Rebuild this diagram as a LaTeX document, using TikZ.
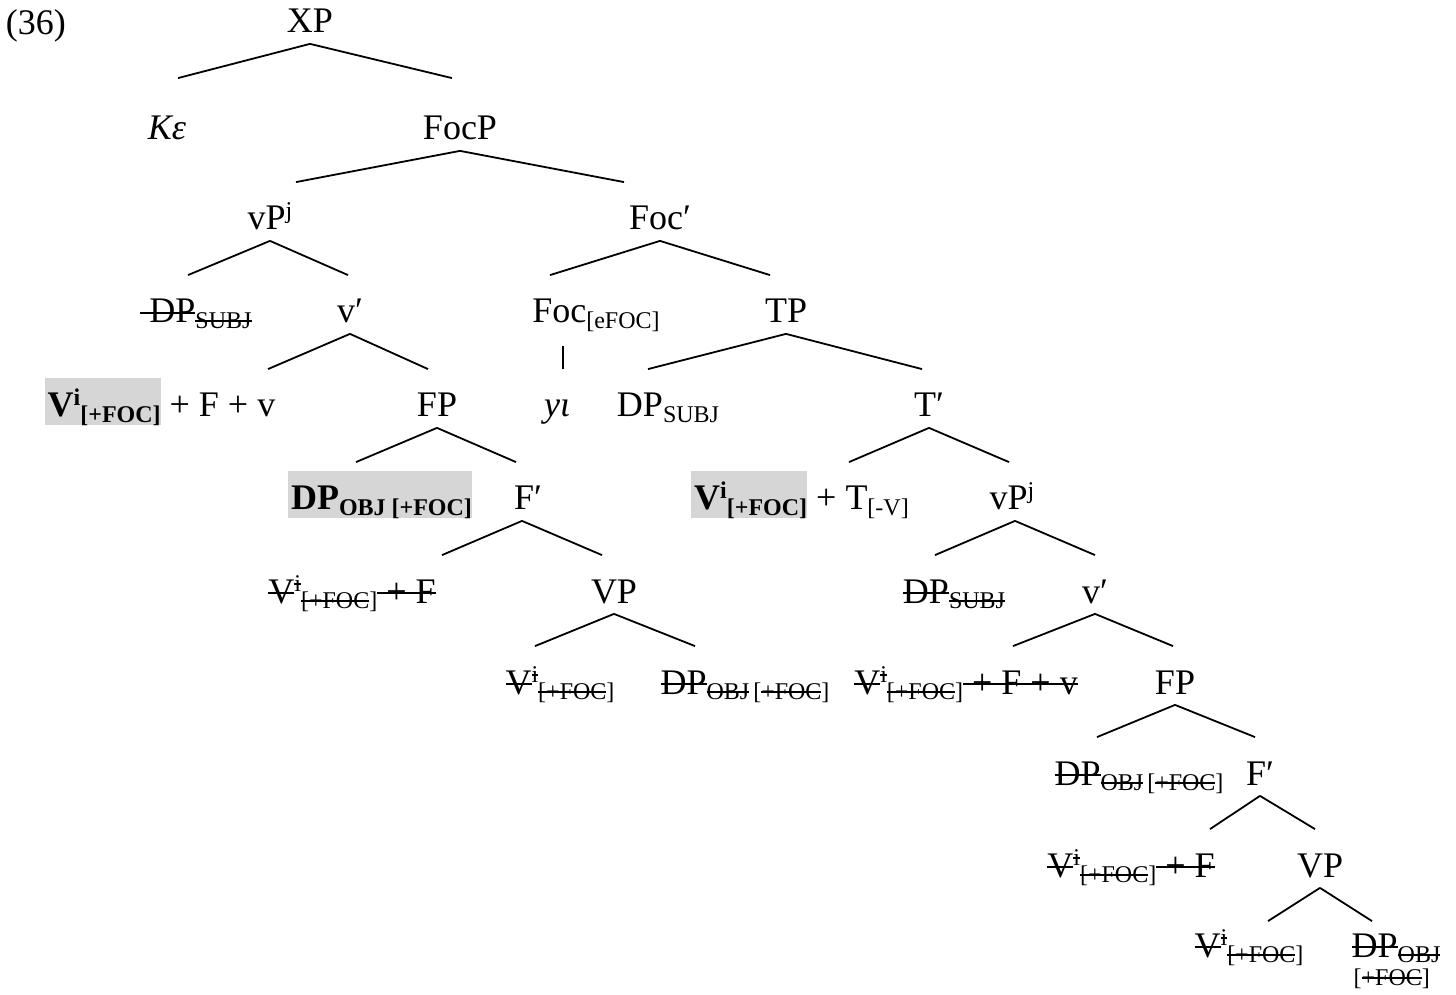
\documentclass[tikz,border=0pt]{standalone}
\usepackage{fontspec}
\setmainfont{Liberation Serif}
\usetikzlibrary{calc}
\definecolor{hlgray}{gray}{0.84}
\newsavebox\strkbox
\newcommand\strk[1]{\sbox\strkbox{#1}\rlap{\usebox\strkbox}\rule[0.25em]{\wd\strkbox}{0.55pt}}
\newcommand\lo[1]{\raisebox{-0.14em}{\fontsize{8}{9}\selectfont #1}}
\newcommand\hi[1]{\raisebox{0.33em}{\fontsize{8}{9}\selectfont #1}}
\newcommand\hl[1]{{\setlength\fboxsep{0pt}\colorbox{hlgray}{\rule[-2.7pt]{0pt}{15.7pt}\kern1pt#1}}}
\tikzset{lab/.style={anchor=base,inner sep=0pt,text height=15.67pt,text depth=3.33pt,font=\fontsize{12}{14}\selectfont}}
\begin{document}
\begin{tikzpicture}[x=0.33333pt,y=-0.33333pt,line width=0.6pt]
			\useasboundingbox (0,0) rectangle (1456,995);
			%upper part
			\node[lab,anchor=base west] (ex) at (5,35) {(36)};
			\node[lab] (XP) at (310,33) {XP};
			\node[lab] (Ke) at (167,140) {\textit{Kε}};
			\node[lab] (FocP) at (460,140) {FocP};
			\node[lab] (vPj) at (270,230) {vP\hi{j}};
			\node[lab] (Focb) at (660,230) {Foc′};
			\node[lab] (DPs) at (196,323) {\strk{\kern3pt DP}\lo{\strk{SUBJ}}};
			\node[lab] (vb) at (350,323) {v′};
			\node[lab] (Foc) at (596,323) {Foc\lo{[eFOC]}};
			\node[lab] (TP) at (786,323) {TP};
			\node[lab] (Vfv) at (160,417) {\hl{\textbf{V\hi{i}\lo{[+FOC]}}} + F + v};
			\node[lab] (FP) at (437,417) {FP};
			\node[lab] (yi) at (557,417) {\textit{yι}};
			\node[lab] (DPsubj) at (668,417) {DP\lo{SUBJ}};
			\node[lab] (Tb) at (929,417) {T′};
			\node[lab] (DPobj) at (380,510) {\hl{\textbf{DP\lo{OBJ [+FOC]}}}};
			\node[lab] (Fb) at (528,510) {F′};
			\node[lab] (VT) at (800,510) {\hl{\textbf{V\hi{i}\lo{[+FOC]}}} + T\lo{[-V]}};
			\node[lab] (vPj2) at (1012,510) {vP\hi{j}};
			%lower copies
			\node[lab] (VF) at (352,603) {\strk{V}\hi{\strk{i}}\lo{\strk{[+FOC}]}\strk{~+ F}};
			\node[lab] (VP) at (614,603) {VP};
			\node[lab] (DPs2) at (954,603) {\strk{DP}\lo{\strk{SUBJ}}};
			\node[lab] (vb2) at (1095,603) {v′};
			\node[lab] (V) at (560,694) {\strk{V}\hi{\strk{i}}\lo{\strk{[+FOC}]}};
			\node[lab] (DPo) at (745,694) {\strk{DP}\lo{\strk{OBJ}\,[\strk{+FOC}]}};
			\node[lab] (Vfv2) at (966,694) {\strk{V}\hi{\strk{i}}\lo{\strk{[+FOC}]}\strk{~+ F + v}};
			\node[lab] (FP2) at (1175,694) {FP};
			\node[lab] (DPo2) at (1139,785) {\strk{DP}\lo{\strk{OBJ}\,[\strk{+FOC}]}};
			\node[lab] (Fb2) at (1260,785) {F′};
			\node[lab] (VF2) at (1131,877) {\strk{V}\hi{\strk{i}}\lo{\strk{[+FOC}]}\strk{~+ F}};
			\node[lab] (VP2) at (1320,877) {VP};
			\node[lab] (V2) at (1249,957) {\strk{V}\hi{\strk{i}}\lo{\strk{[+FOC}]}};
			\node[lab] (DPo3) at (1396,957) {\strk{DP}\lo{\strk{OBJ}}};
			\node[lab,anchor=base west] (DPo3f) at ($(DPo3.base west)+(2,23)$) {\lo{[\strk{+FOC}]}};
			%branches
			\draw (XP.south) -- ($(Ke.north)+(11,-14)$);
			\draw (XP.south) -- ($(FocP.north)+(-8,-14)$);
			\draw (FocP.south) -- ($(vPj.north)+(26,0)$);
			\draw (FocP.south) -- ($(Focb.north)+(-36,0)$);
			\draw (vPj.south) -- ($(DPs.north)+(-8,0)$);
			\draw (vPj.south) -- ($(vb.north)+(-2,0)$);
			\draw (Focb.south) -- ($(Foc.north)+(-46,0)$);
			\draw (Focb.south) -- ($(TP.north)+(-16,0)$);
			\draw (vb.south) -- ($(Vfv.north)+(108,0)$);
			\draw (vb.south) -- ($(FP.north)+(-9,0)$);
			\draw ($(Foc.south)+(-33,12)$) -- ($(yi.north)+(6,0)$);
			\draw (TP.south) -- ($(DPsubj.north)+(-20,0)$);
			\draw (TP.south) -- ($(Tb.north)+(-7,0)$);
			\draw (FP.south) -- ($(DPobj.north)+(-24,0)$);
			\draw (FP.south) -- ($(Fb.north)+(-12,0)$);
			\draw (Tb.south) -- ($(VT.north)+(49,0)$);
			\draw (Tb.south) -- ($(vPj2.north)+(-3,0)$);
			\draw ($(Fb.south)+(-6,0)$) -- ($(VF.north)+(90,0)$);
			\draw ($(Fb.south)+(-6,0)$) -- ($(VP.north)+(-12,0)$);
			\draw ($(vPj2.south)+(3,0)$) -- ($(DPs2.north)+(-19,0)$);
			\draw ($(vPj2.south)+(3,0)$) -- (vb2.north);
			\draw (VP.south) -- ($(V.north)+(-25,0)$);
			\draw (VP.south) -- ($(DPo.north)+(-50,0)$);
			\draw (vb2.south) -- ($(Vfv2.north)+(47,0)$);
			\draw (vb2.south) -- ($(FP2.north)+(-2,0)$);
			\draw (FP2.south) -- ($(DPo2.north)+(-42,0)$);
			\draw (FP2.south) -- ($(Fb2.north)+(-5,0)$);
			\draw (Fb2.south) -- ($(VF2.north)+(79,0)$);
			\draw (Fb2.south) -- ($(VP2.north)+(-5,0)$);
			\draw (VP2.south) -- ($(V2.north)+(19,12)$);
			\draw (VP2.south) -- ($(DPo3.north)+(-24,12)$);
\end{tikzpicture}
\end{document}
